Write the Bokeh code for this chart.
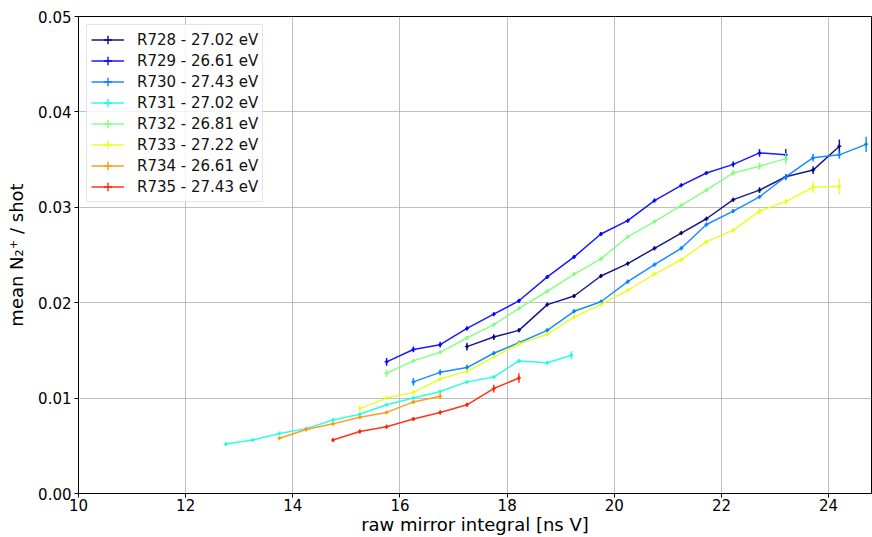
from bokeh.plotting import figure
from bokeh.models import Range1d, FixedTicker, PrintfTickFormatter, Legend, LegendItem, ColumnDataSource
from bokeh.embed import file_html
from bokeh.resources import INLINE
import numpy as np

# ---- data ----
labels = ["R728 - 27.02 eV", "R729 - 26.61 eV", "R730 - 27.43 eV", "R731 - 27.02 eV",
          "R732 - 26.81 eV", "R733 - 27.22 eV", "R734 - 26.61 eV", "R735 - 27.43 eV"]
colors = ["#000080", "#0000ff", "#0080ff", "#15ffe2", "#7dff7a", "#e4ff13", "#ff9400", "#ff2000"]

x728 = [17.25, 17.75, 18.22, 18.75, 19.25, 19.75, 20.25, 20.75, 21.25, 21.72, 22.22, 22.71, 23.2, 23.71, 24.2]
y728 = [0.0154, 0.0164, 0.0171, 0.0198, 0.0207, 0.0228, 0.0241, 0.0257, 0.0273, 0.0288, 0.0308, 0.0318, 0.0332, 0.0339, 0.0364]
e728 = [0.0004, 0.0003, 0.0002, 0.0002, 0.0002, 0.0002, 0.0002, 0.0002, 0.0002, 0.0002, 0.0002, 0.0003, 0.0003, 0.0004, 0.0007]

x729 = [15.75, 16.25, 16.75, 17.25, 17.75, 18.22, 18.75, 19.25, 19.75, 20.25, 20.75, 21.25, 21.72, 22.22, 22.71, 23.2]
y729 = [0.0138, 0.0151, 0.0156, 0.0173, 0.0188, 0.0202, 0.0227, 0.0248, 0.0272, 0.0286, 0.0307, 0.0323, 0.0336, 0.0345, 0.0357, 0.0355]
e729 = [0.0004, 0.0003, 0.0003, 0.0002, 0.0002, 0.0002, 0.0002, 0.0002, 0.0002, 0.0002, 0.0002, 0.0002, 0.0002, 0.0003, 0.0004, 0.0006]

x730 = [16.25, 16.75, 17.25, 17.75, 18.22, 18.75, 19.25, 19.75, 20.25, 20.75, 21.25, 21.72, 22.22, 22.71, 23.2, 23.71, 24.2, 24.7]
y730 = [0.0117, 0.0127, 0.0132, 0.0147, 0.0158, 0.0171, 0.0191, 0.0201, 0.0222, 0.0240, 0.0257, 0.0282, 0.0296, 0.0311, 0.0332, 0.0352, 0.0355, 0.0366]
e730 = [0.0004, 0.0003, 0.0003, 0.0002, 0.0002, 0.0002, 0.0002, 0.0002, 0.0002, 0.0002, 0.0002, 0.0002, 0.0002, 0.0002, 0.0003, 0.0004, 0.0004, 0.0008]

x731 = [12.75, 13.25, 13.75, 14.25, 14.75, 15.25, 15.75, 16.25, 16.75, 17.25, 17.75, 18.22, 18.75, 19.2]
y731 = [0.0052, 0.0056, 0.0063, 0.0068, 0.0077, 0.0083, 0.0093, 0.0100, 0.0107, 0.0117, 0.0122, 0.0139, 0.0137, 0.0145]
e731 = [0.0001, 0.0001, 0.0001, 0.0001, 0.0001, 0.0001, 0.0001, 0.0001, 0.0001, 0.0001, 0.0001, 0.0002, 0.0002, 0.0004]

x732 = [15.75, 16.25, 16.75, 17.25, 17.75, 18.22, 18.75, 19.25, 19.75, 20.25, 20.75, 21.25, 21.72, 22.22, 22.71, 23.2]
y732 = [0.0126, 0.0139, 0.0148, 0.0163, 0.0177, 0.0194, 0.0212, 0.0230, 0.0246, 0.0269, 0.0285, 0.0302, 0.0318, 0.0336, 0.0343, 0.0351]
e732 = [0.0004, 0.0002, 0.0002, 0.0002, 0.0002, 0.0002, 0.0002, 0.0002, 0.0002, 0.0002, 0.0002, 0.0002, 0.0002, 0.0003, 0.0004, 0.0006]

x733 = [15.25, 15.75, 16.25, 16.75, 17.25, 17.75, 18.22, 18.75, 19.25, 19.75, 20.25, 20.75, 21.25, 21.72, 22.22, 22.71, 23.2, 23.71, 24.2]
y733 = [0.0089, 0.0100, 0.0106, 0.0120, 0.0128, 0.0143, 0.0157, 0.0167, 0.0185, 0.0198, 0.0213, 0.0230, 0.0245, 0.0264, 0.0276, 0.0296, 0.0306, 0.0321, 0.0322]
e733 = [0.0003, 0.0002, 0.0002, 0.0002, 0.0002, 0.0002, 0.0002, 0.0002, 0.0002, 0.0002, 0.0002, 0.0002, 0.0002, 0.0002, 0.0002, 0.0003, 0.0003, 0.0006, 0.0008]

x734 = [13.75, 14.25, 14.75, 15.25, 15.75, 16.25, 16.75]
y734 = [0.0058, 0.0067, 0.0073, 0.0080, 0.0085, 0.0096, 0.0102]
e734 = [0.0001, 0.0001, 0.0001, 0.0001, 0.0001, 0.0002, 0.0003]

x735 = [14.75, 15.25, 15.75, 16.25, 16.75, 17.25, 17.75, 18.22]
y735 = [0.0056, 0.0065, 0.0070, 0.0078, 0.0085, 0.0093, 0.0110, 0.0121]
e735 = [0.0002, 0.0002, 0.0002, 0.0002, 0.0002, 0.0002, 0.0004, 0.0005]

xs = [x728, x729, x730, x731, x732, x733, x734, x735]
ys = [y728, y729, y730, y731, y732, y733, y734, y735]
es = [e728, e729, e730, e731, e732, e733, e734, e735]

x_ticks = [10, 12, 14, 16, 18, 20, 22, 24]
y_ticks = [0.0, 0.01, 0.02, 0.03, 0.04, 0.05]

FONT = "DejaVu Sans"

p = figure(width=872, height=537, output_backend="svg", toolbar_location=None,
           x_range=Range1d(10, 24.8), y_range=Range1d(0, 0.05),
           min_border_left=78, min_border_right=1, min_border_top=16, min_border_bottom=0)

p.background_fill_color = "white"
p.border_fill_color = "white"
p.outline_line_color = "black"
p.outline_line_width = 1
p.outline_line_alpha = 1

for ax in (p.xaxis[0], p.yaxis[0]):
    ax.major_tick_out = 4
    ax.major_tick_in = 0
    ax.minor_tick_out = 0
    ax.minor_tick_in = 0
    ax.axis_line_color = "black"
    ax.major_tick_line_color = "black"
    ax.major_label_text_font = FONT
    ax.major_label_text_font_size = "15px"
    ax.major_label_text_color = "black"
    ax.axis_label_text_font = FONT
    ax.axis_label_text_font_size = "18px"
    ax.axis_label_text_font_style = "normal"
    ax.axis_label_text_color = "black"

p.xaxis.major_label_standoff = 1
p.yaxis.major_label_standoff = 3
p.xaxis.ticker = FixedTicker(ticks=x_ticks)
p.yaxis.ticker = FixedTicker(ticks=y_ticks)
p.yaxis.formatter = PrintfTickFormatter(format="%.2f")
p.xaxis.axis_label = "raw mirror integral [ns V]"
p.yaxis.axis_label = "mean N\u2082\u207a / shot"
p.xaxis.axis_label_standoff = 0
p.yaxis.axis_label_standoff = 8

p.grid.grid_line_color = "#b0b0b0"
p.grid.grid_line_width = 0.8

items = []
for lab, col, x, y, e in zip(labels, colors, xs, ys, es):
    x = np.array(x); y = np.array(y); e = np.array(e)
    src = ColumnDataSource(dict(x=x, y=y, lo=y - e, hi=y + e))
    ln = p.line("x", "y", source=src, line_color=col, line_width=1.5, line_alpha=0.9)
    p.segment("x", "lo", "x", "hi", source=src, line_color=col, line_width=1.5, line_alpha=0.9)
    mk = p.scatter("x", "y", source=src, marker="cross", size=4,
                   line_color=col, line_width=1.5, line_alpha=0.9)
    items.append(LegendItem(label=lab, renderers=[ln, mk]))

legend = Legend(items=items, location="top_left")
legend.label_text_font = FONT
legend.label_text_font_size = "15px"
legend.label_text_color = "#111111"
legend.glyph_width = 33
legend.glyph_height = 21
legend.label_height = 21
legend.label_standoff = 13
legend.spacing = 0
legend.padding = 4
legend.margin = 8
legend.border_line_color = "#cccccc"
legend.border_line_width = 1
legend.background_fill_color = "white"
legend.background_fill_alpha = 0.8
p.add_layout(legend)

open("out.html", "w").write(file_html(p, INLINE))
